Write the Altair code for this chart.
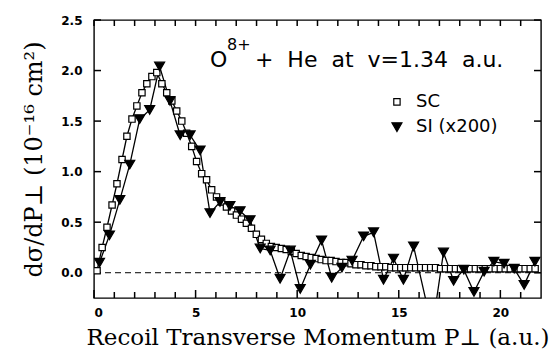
import altair as alt
import pandas as pd

# ---- data ----
sc_x = [0.15, 0.40, 0.64, 0.89, 1.13, 1.38, 1.62, 1.87, 2.11, 2.36,
        2.60, 2.85, 3.09, 3.34, 3.58, 3.83, 4.07, 4.32, 4.56, 4.81,
        5.05, 5.30, 5.54, 5.79, 6.03, 6.28, 6.52, 6.77, 7.01, 7.26,
        7.50, 7.75, 7.99, 8.24, 8.48, 8.73, 8.97, 9.22, 9.46, 9.71,
        9.95, 10.20, 10.44, 10.69, 10.93, 11.18, 11.42, 11.67, 11.91, 12.16,
        12.40, 12.65, 12.89, 13.14, 13.38, 13.63, 13.87, 14.12, 14.36, 14.61,
        14.85, 15.10, 15.34, 15.59, 15.83, 16.08, 16.32, 16.57, 16.81, 17.06,
        17.30, 17.55, 17.79, 18.04, 18.28, 18.53, 18.77, 19.02, 19.26, 19.51,
        19.75, 20.00, 20.24, 20.49, 20.73, 20.98, 21.22, 21.47, 21.71]
sc_y = [0.02, 0.25, 0.45, 0.67, 0.88, 1.12, 1.35, 1.52, 1.65, 1.78,
        1.87, 1.94, 1.98, 1.87, 1.78, 1.70, 1.60, 1.50, 1.38, 1.25,
        1.10, 0.98, 0.92, 0.82, 0.75, 0.70, 0.65, 0.61, 0.57, 0.53,
        0.49, 0.44, 0.38, 0.33, 0.29, 0.26, 0.25, 0.24, 0.23, 0.21,
        0.19, 0.17, 0.16, 0.15, 0.14, 0.13, 0.12, 0.12, 0.11, 0.10,
        0.10, 0.09, 0.08, 0.08, 0.07, 0.07, 0.06, 0.06, 0.06, 0.05,
        0.05, 0.05, 0.05, 0.05, 0.05, 0.05, 0.05, 0.05, 0.05, 0.04,
        0.04, 0.04, 0.04, 0.04, 0.04, 0.04, 0.04, 0.04, 0.04, 0.04,
        0.04, 0.04, 0.04, 0.04, 0.04, 0.04, 0.04, 0.04, 0.04]
si_x = [0.27, 0.76, 1.27, 1.76, 2.25, 2.74, 3.23, 3.74, 4.24, 4.73,
        5.22, 5.71, 6.20, 6.69, 7.19, 7.68, 8.18, 8.67, 9.16, 9.66,
        10.15, 10.65, 11.20, 11.70, 12.20, 12.70, 13.27, 13.76, 14.25, 14.74,
        15.23, 15.73, 16.65, 17.20, 17.70, 18.20, 18.70, 19.20, 19.68, 20.18,
        20.68, 21.17, 21.70]
si_y = [0.10, 0.37, 0.72, 1.07, 1.52, 1.61, 2.04, 1.70, 1.36, 1.36,
        1.21, 0.59, 0.70, 0.66, 0.61, 0.52, 0.24, 0.22, -0.06, 0.22,
        -0.16, 0.08, 0.32, -0.05, 0.05, 0.12, 0.36, 0.40, -0.07, 0.14,
        -0.07, 0.26, -0.55, 0.20, -0.08, 0.03, -0.19, 0.01, 0.11, 0.09,
        0.04, -0.12, 0.11]
series_names = ["SC", "SI (x200)"]
x_major_ticks = [0, 5, 10, 15, 20]
x_minor_ticks = [1, 2, 3, 4, 6, 7, 8, 9, 11, 12, 13, 14, 16, 17, 18, 19, 21]
x_all_ticks = sorted(x_major_ticks + x_minor_ticks)
y_ticks = [0.0, 0.5, 1.0, 1.5, 2.0, 2.5]
zero_line = [0.0]
# legend entries (placed in data coordinates, top right of the panel)
legend_x = [14.91, 14.91]
legend_y = [1.69, 1.44]
legend_text_x = [15.85, 15.85]

df = pd.concat([
    pd.DataFrame({"x": sc_x, "y": sc_y, "series": series_names[0]}),
    pd.DataFrame({"x": si_x, "y": si_y, "series": series_names[1]}),
], ignore_index=True)
leg_df = pd.DataFrame({"x": legend_x, "y": legend_y, "tx": legend_text_x,
                       "series": series_names})

W, H = 447, 278
XD = [0, 22]
YD = [-0.25, 2.5]
XS = alt.Scale(domain=XD, nice=False, zero=False)
YS = alt.Scale(domain=YD, nice=False, zero=False)
px_x = (XD[1] - XD[0]) / W   # data units per pixel
px_y = (YD[1] - YD[0]) / H

SANS = "DejaVu Sans"
SERIF = "DejaVu Serif"

ax_bottom = alt.Axis(orient="bottom", values=x_major_ticks, ticks=False,
                     labelPadding=9, domain=False, grid=False,
                     labelFont=SANS, labelFontSize=12, labelFontWeight="bold",
                     labelColor="black",
                     title="Recoil Transverse Momentum P⊥ (a.u.)",
                     titleFont=SERIF, titleFontSize=23, titleFontWeight="normal",
                     titleColor="black", titlePadding=8)
ax_left = alt.Axis(orient="left", values=y_ticks, format=".1f", ticks=False,
                   labelPadding=12, domain=False, grid=False,
                   labelFont=SANS, labelFontSize=12, labelFontWeight="bold",
                   labelColor="black",
                   title="dσ/dP⊥ (10⁻¹⁶ cm²)",
                   titleFont=SERIF, titleFontSize=24, titleFontWeight="normal",
                   titleColor="black", titlePadding=14)

shape_enc = alt.Shape("series:N", scale=alt.Scale(domain=series_names,
                      range=["square", "triangle-down"]), legend=None)
fill_enc = alt.Fill("series:N", scale=alt.Scale(domain=series_names,
                    range=["white", "black"]), legend=None)
size_enc = alt.Size("series:N", scale=alt.Scale(domain=series_names,
                    range=[40, 100]), legend=None)

def X(field, axis=None):
    return alt.X(field, scale=XS, axis=axis)

def Y(field, axis=None):
    return alt.Y(field, scale=YS, axis=axis)

# inward ticks on all four sides: short segments in data coordinates
tick_rows = []
for v in x_minor_ticks:
    tick_rows.append({"xa": v, "xb": v, "ya": YD[0], "yb": YD[0] + 6 * px_y})
for v in x_major_ticks:
    tick_rows.append({"xa": v, "xb": v, "ya": YD[0], "yb": YD[0] + 8 * px_y})
for v in x_all_ticks:
    tick_rows.append({"xa": v, "xb": v, "ya": YD[1], "yb": YD[1] - 6 * px_y})
for v in y_ticks:
    tick_rows.append({"xa": XD[0], "xb": XD[0] + 7 * px_x, "ya": v, "yb": v})
    tick_rows.append({"xa": XD[1], "xb": XD[1] - 7 * px_x, "ya": v, "yb": v})
ticks_df = pd.DataFrame(tick_rows)

ticks = alt.Chart(ticks_df).mark_rule(color="black", strokeWidth=1.5).encode(
    x=X("xa:Q"), x2=alt.X2("xb:Q"), y=Y("ya:Q"), y2=alt.Y2("yb:Q"))

zero = alt.Chart(pd.DataFrame({"y": zero_line})).mark_rule(
    color="black", strokeWidth=1, strokeDash=[6, 4]
).encode(y=Y("y:Q"))

lines = alt.Chart(df).mark_line(color="black", strokeWidth=1.3, clip=True).encode(
    x=X("x:Q", ax_bottom), y=Y("y:Q", ax_left), detail="series:N")

points = alt.Chart(df).mark_point(filled=True, stroke="black", strokeWidth=1.2,
                                  opacity=1, clip=True).encode(
    x=X("x:Q"), y=Y("y:Q"), shape=shape_enc, fill=fill_enc, size=size_enc)

leg_pts = alt.Chart(leg_df).mark_point(filled=True, stroke="black", strokeWidth=1.2,
                                       opacity=1).encode(
    x=X("x:Q"), y=Y("y:Q"), shape=shape_enc, fill=fill_enc, size=size_enc)
leg_txt = alt.Chart(leg_df).mark_text(align="left", baseline="middle", font=SANS,
                                      fontSize=18, color="black").encode(
    x=X("tx:Q"), y=Y("y:Q"), text="series:N")

# annotation text (placed in data coordinates)
ann_main = pd.DataFrame({"x": [5.71, 7.92], "y": [2.035, 2.035],
                         "t": ["O", "+\u00a0\u00a0He\u00a0\u00a0at\u00a0\u00a0v=1.34\u00a0\u00a0a.u."]})
ann_sup = pd.DataFrame({"x": [6.55], "y": [2.20], "t": ["8+"]})

t_main = alt.Chart(ann_main).mark_text(align="left", baseline="alphabetic",
                                       font=SANS, fontSize=22, color="black").encode(
    x=X("x:Q"), y=Y("y:Q"), text="t:N")
t_sup = alt.Chart(ann_sup).mark_text(align="left", baseline="alphabetic",
                                     font=SANS, fontSize=16, color="black").encode(
    x=X("x:Q"), y=Y("y:Q"), text="t:N")

chart = alt.layer(ticks, zero, lines, points, leg_pts, leg_txt, t_main, t_sup
                  ).resolve_axis(
    x="independent", y="independent"
).properties(
    width=W, height=H,
    autosize=alt.AutoSizeParams(type="none"),
    padding={"left": 94, "top": 20, "right": 14, "bottom": 54},
    background="white",
).configure_view(stroke="black", strokeWidth=1.4)

chart.save("out.html", embed_options={"renderer": "svg", "actions": False})
